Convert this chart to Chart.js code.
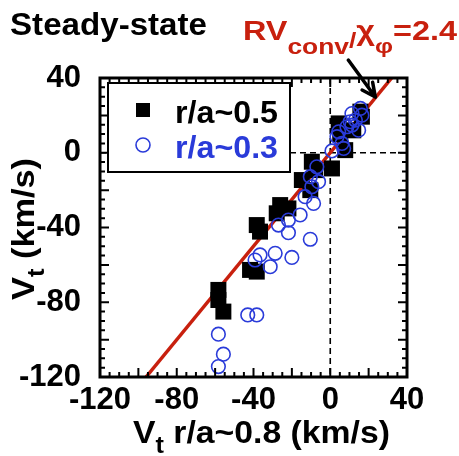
<!DOCTYPE html>
<html>
<head>
<meta charset="utf-8">
<script src="https://cdn.jsdelivr.net/npm/chart.js@4.4.1/dist/chart.umd.min.js"></script>
<style>
  body { margin: 0; background: #fff; }
  #wrap { width: 459px; height: 456px; }
</style>
</head>
<body>
<div id="wrap"><canvas id="vtChart" width="459" height="456"></canvas></div>
<script>
// r/a~0.5 (filled squares): x = Vt at r/a~0.8, y = Vt at r/a~0.5
const sqX = [4.4, 5.2, 12.0, 15.7, 16.5, 7.8, 0.9, -9.6, -7.8, -14.8, -10.4, -26.1, -21.8, -27.9, -38.3, -36.6, -41.8, -38.3, -58.3, -58.3, -55.7];
const sqY = [15.7, 10.0, 12.0, 22.0, 19.3, 1.4, -8.4, -4.8, -9.3, -14.6, -20.0, -28.0, -29.8, -32.4, -38.7, -42.2, -62.7, -63.6, -73.4, -78.8, -85.0];

// r/a~0.3 (open circles)
const ciX = [15.7, 16.5, 11.3, 13.1, 11.3, 14.8, 8.7, 4.4, 3.5, 6.1, 7.0, 0.9, 10.4, -7.0, -6.1, -10.4, -9.6, -13.1, -8.7, -15.7, -21.8, -27.0, -21.8, -10.4, -28.7, -36.6, -39.2, -31.3, -20.0, -43.0, -38.3, -58.3, -55.7, -58.3];
const ciY = [23.7, 20.1, 21.0, 17.5, 14.8, 12.1, 13.9, 11.2, 8.6, 5.0, 2.3, 1.0, 16.6, -7.5, -15.5, -12.8, -18.2, -23.5, -27.1, -33.3, -36.0, -38.7, -42.8, -46.3, -53.8, -54.7, -57.4, -61.0, -56.0, -86.8, -86.8, -97.1, -107.8, -114.4];

// model line RVconv/chi = 2.4
const fitX = [-96, 32];
const fitY = [-120, 40];

const axisMin = -120, axisMax = 40;
const tickStep = 40;

const FONT = '"Liberation Sans", Arial, sans-serif';
const BLUE = '#2a3bd9';
const RED = '#c8200e';

const pts = (xs, ys) => xs.map((x, i) => ({ x: x, y: ys[i] }));

// draw text pieces (for subscripts), optionally squeezed to a width
function richText(ctx, parts, x, y, color, width, rot) {
  ctx.save();
  let w = 0;
  parts.forEach(p => { ctx.font = `bold ${p[1]}px ${FONT}`; w += ctx.measureText(p[0]).width; });
  ctx.translate(x, y);
  if (rot) ctx.rotate(rot);
  if (width) ctx.scale(width / w, 1);
  ctx.fillStyle = color;
  ctx.textBaseline = 'alphabetic';
  let cx = 0;
  parts.forEach(p => {
    ctx.font = `bold ${p[1]}px ${FONT}`;
    ctx.fillText(p[0], cx, p[2]);
    cx += ctx.measureText(p[0]).width;
  });
  ctx.restore();
}

const decor = {
  id: 'decor',
  beforeDatasetsDraw(chart) {
    const { ctx, chartArea: a, scales: { x, y } } = chart;
    ctx.save();
    ctx.strokeStyle = '#000';
    ctx.lineWidth = 1.6;
    ctx.setLineDash([6, 4]);
    ctx.beginPath();
    ctx.moveTo(x.getPixelForValue(0), a.top);
    ctx.lineTo(x.getPixelForValue(0), a.bottom);
    ctx.moveTo(a.left, y.getPixelForValue(0));
    ctx.lineTo(a.right, y.getPixelForValue(0));
    ctx.stroke();
    ctx.restore();
  },
  afterDatasetsDraw(chart) {
    const { ctx, chartArea: a, scales: { x, y } } = chart;
    ctx.save();

    // frame + inward ticks
    ctx.strokeStyle = '#000';
    ctx.lineWidth = 3;
    ctx.strokeRect(a.left, a.top, a.right - a.left, a.bottom - a.top);
    ctx.lineWidth = 2;
    ctx.beginPath();
    for (let v = axisMin; v <= axisMax; v += 5) {
      const len = v % 20 === 0 ? 9 : 5;
      const px = x.getPixelForValue(v), py = y.getPixelForValue(v);
      ctx.moveTo(px, a.bottom); ctx.lineTo(px, a.bottom - len);
      ctx.moveTo(px, a.top); ctx.lineTo(px, a.top + len);
      ctx.moveTo(a.left, py); ctx.lineTo(a.left + len, py);
      ctx.moveTo(a.right, py); ctx.lineTo(a.right - len, py);
    }
    ctx.stroke();

    // legend box
    const sq = chart.data.datasets[1], ci = chart.data.datasets[0];
    ctx.fillStyle = '#fff';
    ctx.fillRect(108, 83, 182, 89);
    ctx.lineWidth = 2;
    ctx.strokeRect(108, 83, 182, 89);
    ctx.fillStyle = sq.backgroundColor;
    ctx.fillRect(136, 103, 14, 14);
    ctx.strokeStyle = ci.borderColor;
    ctx.lineWidth = 1.6;
    ctx.beginPath();
    ctx.arc(143, 145, 7, 0, Math.PI * 2);
    ctx.stroke();
    richText(ctx, [[sq.label, 32, 0]], 175, 123, '#000', 103);
    richText(ctx, [[ci.label, 32, 0]], 175, 158, BLUE, 103);

    // arrow pointing at the model line
    const x0 = x.getPixelForValue(9.4), y0 = y.getPixelForValue(49.6);
    const x1 = x.getPixelForValue(23.5), y1 = y.getPixelForValue(29.8);
    const ang = Math.atan2(y1 - y0, x1 - x0);
    ctx.strokeStyle = '#000';
    ctx.lineWidth = 3.5;
    ctx.lineCap = 'round';
    ctx.beginPath();
    ctx.moveTo(x0, y0); ctx.lineTo(x1, y1);
    ctx.moveTo(x1, y1); ctx.lineTo(x1 - 15 * Math.cos(ang - 0.45), y1 - 15 * Math.sin(ang - 0.45));
    ctx.moveTo(x1, y1); ctx.lineTo(x1 - 15 * Math.cos(ang + 0.45), y1 - 15 * Math.sin(ang + 0.45));
    ctx.stroke();
    ctx.restore();

    // texts
    richText(ctx, [['Steady-state', 31, 0]], 10, 35, '#000', 197);
    richText(ctx, [['RV', 27, 0], ['conv', 22, 14], ['/', 22, 8], ['\u03c7', 27, 0], ['\u03c6', 21, 13], ['=2.4', 27, 0]], 243, 40, RED, 214);
    richText(ctx, [['V', 32, 0], ['t', 24, 10], [' r/a~0.8 (km/s)', 32, 0]], 133, 443, '#000', 257);
    richText(ctx, [['V', 32, 0], ['t', 24, 10], [' (km/s)', 32, 0]], 34, 300, '#000', 142, -Math.PI / 2);
  }
};

const tickFont = { family: FONT, size: 31, weight: 'bold' };

new Chart(document.getElementById('vtChart').getContext('2d'), {
  type: 'scatter',
  data: {
    datasets: [
      {
        label: 'r/a~0.3',
        data: pts(ciX, ciY),
        pointStyle: 'circle',
        pointRadius: 6.8,
        borderColor: BLUE,
        borderWidth: 1.6,
        backgroundColor: 'rgba(0,0,0,0)'
      },
      {
        label: 'r/a~0.5',
        data: pts(sqX, sqY),
        pointStyle: 'rect',
        pointRadius: 11.3,
        borderWidth: 0,
        borderColor: '#000',
        backgroundColor: '#000'
      },
      {
        label: 'model',
        data: pts(fitX, fitY),
        showLine: true,
        borderColor: RED,
        borderWidth: 3.5,
        pointRadius: 0
      }
    ]
  },
  options: {
    responsive: false,
    animation: false,
    events: [],
    layout: { padding: { top: 78, right: 52, left: 0, bottom: 0 } },
    plugins: {
      legend: { display: false },
      tooltip: { enabled: false }
    },
    scales: {
      x: {
        min: axisMin,
        max: axisMax,
        afterFit: s => { s.height = 79; },
        grid: { display: false },
        border: { display: false },
        ticks: { stepSize: tickStep, font: tickFont, color: '#000', padding: -3, maxRotation: 0 }
      },
      y: {
        min: axisMin,
        max: axisMax,
        afterFit: s => { s.width = 100; },
        grid: { display: false },
        border: { display: false },
        ticks: { stepSize: tickStep, font: tickFont, color: '#000', padding: 11 }
      }
    }
  },
  plugins: [decor]
});
</script>
</body>
</html>
